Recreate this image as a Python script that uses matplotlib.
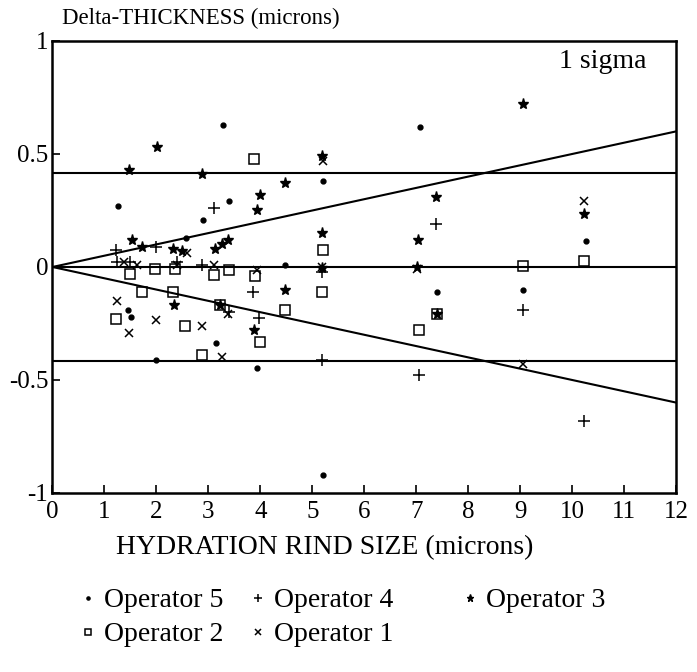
import numpy as np
import matplotlib
matplotlib.use("Agg")
import matplotlib.pyplot as plt

plt.rcParams['font.family'] = ['Liberation Serif', 'DejaVu Serif']

# readings: rind size (microns), delta thickness (microns)
op5_x = [1.26, 2.57, 2.90, 3.28, 3.40, 5.20, 7.07, 10.26, 9.05, 7.40, 4.47, 1.45, 1.52, 2.00, 3.15, 3.93, 5.20]
op5_y = [0.27, 0.13, 0.21, 0.63, 0.29, 0.38, 0.62, 0.115, -0.10, -0.11, 0.01, -0.19, -0.22, -0.41, -0.335, -0.445, -0.92]

op4_x = [3.11, 1.22, 2.00, 7.38, 9.05, 10.22, 5.18, 7.05, 3.86, 3.97, 5.18, 2.88, 1.24, 2.40, 3.40, 1.50]
op4_y = [0.26, 0.075, 0.09, 0.19, -0.19, -0.68, -0.41, -0.48, -0.11, -0.225, -0.02, 0.01, 0.02, 0.02, -0.20, 0.02]

op3_x = [2.01, 1.47, 2.88, 9.05, 5.18, 4.47, 4.00, 3.93, 3.13, 3.26, 3.38, 1.53, 1.72, 2.32, 2.49,
         7.38, 7.03, 5.18, 10.22, 4.47, 7.40, 2.33, 3.22, 3.87, 7.02, 5.18]
op3_y = [0.53, 0.43, 0.41, 0.72, 0.49, 0.37, 0.32, 0.25, 0.08, 0.10, 0.12, 0.12, 0.09, 0.08, 0.07,
         0.31, 0.12, 0.15, 0.235, -0.10, -0.21, -0.17, -0.17, -0.28, 0.0, -0.005]

op2_x = [3.88, 5.20, 9.05, 10.22, 5.18, 4.47, 4.00, 7.05, 7.40, 3.90, 3.40, 3.10, 1.97, 1.50,
         1.72, 2.32, 1.22, 2.55, 2.88, 3.22, 2.35]
op2_y = [0.48, 0.075, 0.005, 0.025, -0.11, -0.19, -0.33, -0.28, -0.21, -0.04, -0.015, -0.035, -0.01, -0.03,
         -0.11, -0.11, -0.23, -0.26, -0.39, -0.17, -0.01]

op1_x = [10.22, 9.05, 5.20, 1.24, 1.48, 2.00, 2.88, 3.27, 3.38, 3.93, 2.58, 1.62, 2.40, 3.10, 7.02, 5.18, 1.38]
op1_y = [0.29, -0.43, 0.47, -0.15, -0.29, -0.235, -0.26, -0.40, -0.21, -0.015, 0.06, 0.01, 0.01, 0.01, -0.01, 0.0, 0.02]

sigma_const = 0.415   # constant 1 sigma band
sigma_slope = 0.05    # 1 sigma growing with rind size

x_ticks = list(range(0, 13))
y_ticks = [1, 0.5, 0, -0.5, -1]
y_ticklabels = ['1', '0.5', '0', '-0.5', '-1']

fig = plt.figure(figsize=(6.97, 6.72), dpi=100)
ax = fig.add_axes([0.0753, 0.2664, 0.8947, 0.6726])

ax.axhline(0, color='k', lw=1.5)
ax.axhline(sigma_const, color='k', lw=1.5)
ax.axhline(-sigma_const, color='k', lw=1.5)
xx = np.array([0, 12])
ax.plot(xx, sigma_slope * xx, color='k', lw=1.5)
ax.plot(xx, -sigma_slope * xx, color='k', lw=1.5)

h5, = ax.plot(op5_x, op5_y, 'o', color='k', ms=3.5, ls='none')
h4, = ax.plot(op4_x, op4_y, '+', color='k', ms=8, mew=1.1, ls='none')
h3, = ax.plot(op3_x, op3_y, '*', color='k', ms=8, ls='none')
h2, = ax.plot(op2_x, op2_y, 's', color='k', mfc='none', ms=7, mew=1.1, ls='none')
h1, = ax.plot(op1_x, op1_y, 'x', color='k', ms=6, mew=1.1, ls='none')

ax.set_xlim(0, 12)
ax.set_ylim(-1, 1)
ax.set_xticks(x_ticks)
ax.set_yticks(y_ticks)
ax.set_yticklabels(y_ticklabels)
ax.tick_params(axis='both', which='major', direction='in', labelsize=18, length=6, width=1.2)
ax.tick_params(axis='x', pad=6)
ax.tick_params(axis='y', pad=3)
for s in ax.spines.values():
    s.set_linewidth(1.8)

ax.text(11.43, 0.91, '1 sigma', ha='right', va='center', fontsize=20)
ax.set_xlabel('HYDRATION RIND SIZE (microns)', fontsize=20)
ax.xaxis.set_label_coords(0.437, -0.093)
fig.text(62 / 697, 1 - 18 / 672, 'Delta-THICKNESS (microns)', fontsize=16.5, ha='left', va='center')

# legend laid out as in the figure: three columns at uneven spacing
columns = [([h5, h2], ['Operator 5', 'Operator 2'], 80),
           ([h4, h1], ['Operator 4', 'Operator 1'], 250),
           ([h3], ['Operator 3'], 462)]
for handles, labels, x0 in columns:
    leg = fig.legend(handles, labels, frameon=False, fontsize=20, markerscale=0.65,
                     handlelength=0.6, handletextpad=0.25, labelspacing=0.3,
                     borderpad=0, borderaxespad=0,
                     loc='upper left', bbox_to_anchor=(x0 / 697, 1 - 588 / 672))

fig.savefig('out.png', dpi=100)
